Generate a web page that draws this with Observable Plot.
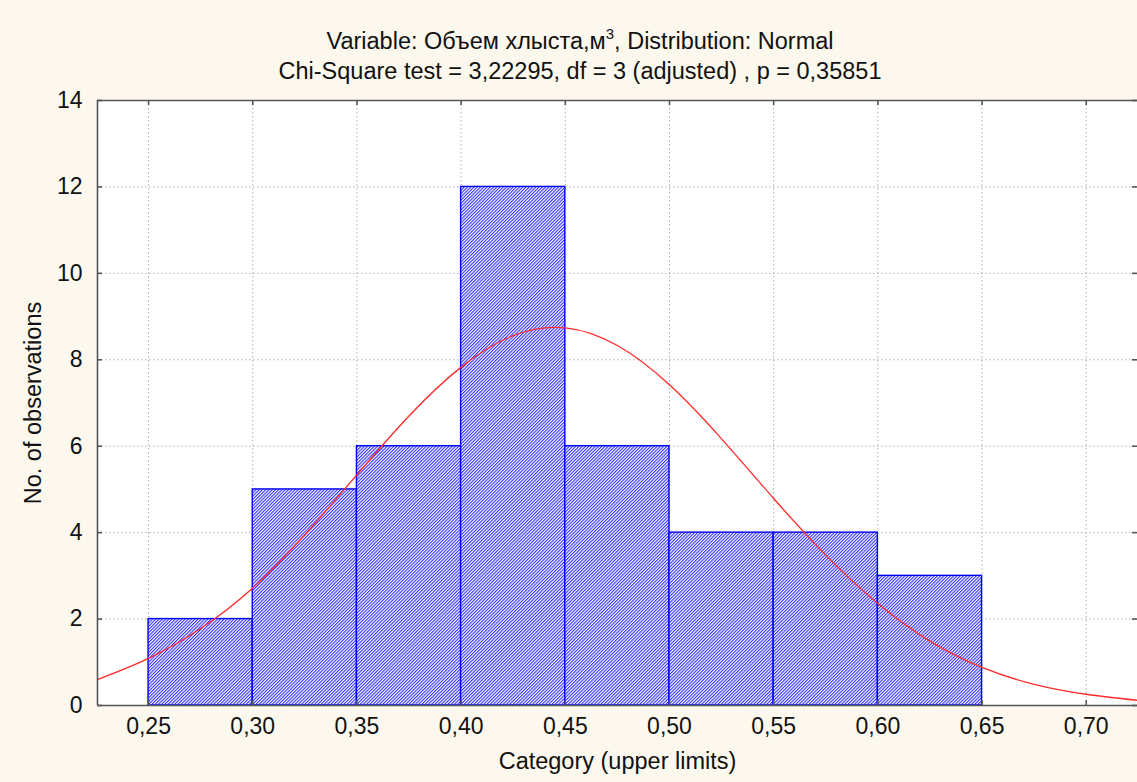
<!DOCTYPE html>
<html>
<head>
<meta charset="utf-8">
<script src="https://cdn.jsdelivr.net/npm/d3@7"></script>
<script src="https://cdn.jsdelivr.net/npm/@observablehq/plot@0.6"></script>
<style>
  html, body { margin: 0; padding: 0; background: #fcf8ee; }
  #wrap { position: relative; width: 1137px; height: 782px; overflow: hidden; background: #fcf8ee; }
  #title { position: absolute; left: 0; width: 1160px; top: 26px; text-align: center;
           font-family: "Liberation Sans", Arial, sans-serif; font-size: 23.5px; color: #111; line-height: 30px; }
  #title sup { font-size: 15px; vertical-align: 10px; line-height: 0; }
  #chart { position: absolute; left: 0; top: 0; }
</style>
</head>
<body>
<div id="wrap">
  <div id="chart"></div>
  <div id="title">Variable: Объем хлыста,м<sup>3</sup>, Distribution: Normal<br>Chi-Square test = 3,22295, df = 3 (adjusted) , p = 0,35851</div>
</div>
<script>
// ---- data ----
const binLower = [0.25, 0.30, 0.35, 0.40, 0.45, 0.50, 0.55, 0.60];
const binUpper = [0.30, 0.35, 0.40, 0.45, 0.50, 0.55, 0.60, 0.65];
const counts   = [2, 5, 6, 12, 6, 4, 4, 3];

// expected normal curve
const curveX = [0.2255, 0.25, 0.275, 0.30, 0.325, 0.35, 0.375, 0.40, 0.425, 0.45, 0.475, 0.50, 0.525, 0.55, 0.575, 0.60, 0.625, 0.65, 0.675, 0.70, 0.7246];
const curveY = [0.60, 1.09, 1.78, 2.72, 3.95, 5.34, 6.70, 7.83, 8.56, 8.74, 8.33, 7.42, 6.17, 4.79, 3.48, 2.36, 1.49, 0.88, 0.49, 0.26, 0.12];

const xTicks = [0.25, 0.30, 0.35, 0.40, 0.45, 0.50, 0.55, 0.60, 0.65, 0.70];
const xTickLabels = ["0,25", "0,30", "0,35", "0,40", "0,45", "0,50", "0,55", "0,60", "0,65", "0,70"];
const yTicks = [0, 2, 4, 6, 8, 10, 12, 14];
const yTickLabels = ["0", "2", "4", "6", "8", "10", "12", "14"];

const xDomain = [0.2255, 0.7246];
const yDomain = [0, 14];

const bars = binLower.map((lo, i) => ({lo, hi: binUpper[i], count: counts[i]}));
const curve = curveX.map((x, i) => ({x, y: curveY[i]}));

// ---- layout ----
const W = 1137, H = 782;
const mL = 97, mT = 100, mB = 77, mR = 0;
const plotH = H - mT - mB, plotW = W - mL - mR;
const tickLen = 5;
const tkY = (yDomain[1] - yDomain[0]) * tickLen / plotH;
const tkX = (xDomain[1] - xDomain[0]) * tickLen / plotW;
const font = "'Liberation Sans', Arial, sans-serif";
const ink = "#111";

const chart = Plot.plot({
  width: W, height: H,
  marginLeft: mL, marginTop: mT, marginBottom: mB, marginRight: mR,
  style: {background: "transparent", fontFamily: font, fontSize: "22px", color: ink, overflow: "visible"},
  x: {domain: xDomain, axis: null},
  y: {domain: yDomain, axis: null},
  marks: [
    Plot.frame({fill: "white", stroke: null}),
    Plot.ruleX(xTicks, {x: d => d, stroke: "#b0b0b0", strokeWidth: 1, strokeDasharray: "1.5,2.5"}),
    Plot.ruleY(yTicks, {y: d => d, stroke: "#b0b0b0", strokeWidth: 1, strokeDasharray: "1.5,2.5"}),
    Plot.rectY(bars, {x1: "lo", x2: "hi", y: "count", fill: "url(#hatch)", stroke: "#0000ff", strokeWidth: 1.4}),
    Plot.line(curve, {x: "x", y: "y", stroke: "#ff2a2a", strokeWidth: 1.3, curve: "natural"}),
    // frame (left, top, bottom)
    Plot.ruleY([yDomain[0], yDomain[1]], {y: d => d, stroke: "#555", strokeWidth: 1.6}),
    Plot.ruleX([xDomain[0]], {x: d => d, stroke: "#555", strokeWidth: 1.6}),
    // inward ticks
    Plot.ruleX(xTicks, {x: d => d, y1: yDomain[0], y2: yDomain[0] + tkY, stroke: "#555", strokeWidth: 1.6}),
    Plot.ruleX(xTicks, {x: d => d, y1: yDomain[1], y2: yDomain[1] - tkY, stroke: "#555", strokeWidth: 1.6}),
    Plot.ruleY(yTicks, {y: d => d, x1: xDomain[0], x2: xDomain[0] + tkX, stroke: "#555", strokeWidth: 1.6}),
    Plot.ruleY(yTicks, {y: d => d, x1: xDomain[1], x2: xDomain[1] - tkX, stroke: "#555", strokeWidth: 1.6}),
    // tick labels
    Plot.text(xTicks, {x: d => d, frameAnchor: "bottom", dy: 28, text: (d, i) => xTickLabels[i], fontSize: 23, fill: ink}),
    Plot.text(yTicks, {y: d => d, frameAnchor: "left", dx: -15, textAnchor: "end", text: (d, i) => yTickLabels[i], fontSize: 23, fill: ink}),
    // axis titles
    Plot.text(["Category (upper limits)"], {frameAnchor: "bottom", dy: 63, textAnchor: "middle", text: d => d, fontSize: 23.5, fill: ink}),
    Plot.text(["No. of observations"], {frameAnchor: "left", dx: -64, textAnchor: "middle", rotate: -90, text: d => d, fontSize: 23.5, fill: ink})
  ]
});

// hatch pattern definition
const svg = d3.select(chart);
const defs = svg.insert("defs", ":first-child");
const pat = defs.append("pattern")
  .attr("id", "hatch")
  .attr("patternUnits", "userSpaceOnUse")
  .attr("width", 2.3).attr("height", 10)
  .attr("patternTransform", "rotate(45)");
pat.append("rect").attr("width", 2.3).attr("height", 10).attr("fill", "white");
pat.append("rect").attr("width", 1.1).attr("height", 10).attr("fill", "#2f2fff");

document.getElementById("chart").appendChild(chart);
</script>
</body>
</html>
